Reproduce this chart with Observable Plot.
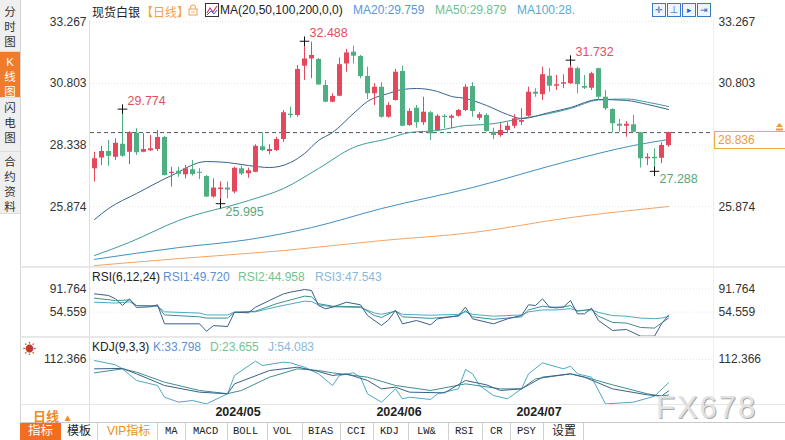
<!DOCTYPE html>
<html><head><meta charset="utf-8">
<script src="https://cdn.jsdelivr.net/npm/d3@7"></script>
<script src="https://cdn.jsdelivr.net/npm/@observablehq/plot@0.6"></script>
<style>
body{margin:0;background:#fff;font-family:"Liberation Sans","Noto Sans CJK SC",sans-serif;}
#root{position:relative;width:785px;height:440px;overflow:hidden;background:#fff;}
.abs{position:absolute;white-space:nowrap;}
.plot{position:absolute;left:0;}
.hl{position:absolute;height:1px;background:#e3e3e3;}
.vl{position:absolute;width:1px;background:#dcdcdc;}
.tb{position:absolute;top:423px;height:17px;line-height:17px;font-size:12px;color:#222;white-space:nowrap;}
.mono{font-family:"Liberation Mono","DejaVu Sans Mono",monospace;font-size:10.5px;}
.side{position:absolute;left:0;width:20px;text-align:center;font-size:11.5px;line-height:15px;color:#333;box-sizing:border-box;}
.ico{position:absolute;top:3px;width:12px;height:12px;border:1px solid #3b78c7;background:#eef4fc;}
</style></head><body><div id="root"></div>
<script>
// ---------- data ----------
const open  = [27.39,27.82,28.08,27.85,28.37,28.05,28.81,28.05,28.11,28.16,28.64,27.20,27.29,27.15,27.35,27.25,27.08,26.26,26.56,26.62,26.46,27.39,27.19,27.25,28.27,28.08,28.12,28.56,29.57,29.52,31.49,31.78,31.76,30.72,30.05,30.29,31.58,32.05,31.88,31.08,30.39,30.65,29.45,30.12,31.28,29.12,29.81,29.23,29.63,28.92,29.49,29.41,29.49,29.72,30.68,29.41,29.52,28.85,28.72,28.92,29.09,29.25,29.49,30.45,30.35,31.09,30.69,30.77,30.79,31.39,30.68,30.61,31.39,30.25,29.76,29.17,29.09,29.15,28.83,27.79,27.85,27.81,28.32];
const high  = [28.05,28.29,28.52,28.59,29.774,28.88,28.99,28.79,28.72,28.92,28.68,27.45,27.45,27.52,27.72,27.39,27.12,26.99,26.86,26.86,27.46,27.49,27.42,28.35,28.83,28.35,28.65,29.72,29.85,31.52,32.488,32.45,31.80,30.92,30.39,31.82,32.16,32.29,31.92,31.45,30.79,30.83,30.03,31.36,31.49,29.79,29.92,30.25,29.68,29.55,29.55,29.55,29.76,30.75,30.83,29.63,29.59,29.01,29.19,29.23,29.55,29.79,30.65,30.59,31.45,31.39,31.12,31.15,31.732,31.45,31.12,31.25,31.41,30.52,29.79,29.36,29.28,29.52,28.85,27.99,28.19,28.43,28.85];
const low   = [26.86,27.52,27.49,27.72,27.85,27.55,27.92,28.03,28.08,28.08,27.10,26.66,27.05,26.99,27.10,26.96,26.24,26.22,25.995,26.19,26.39,27.12,27.01,27.23,28.08,27.95,28.08,28.45,29.41,29.45,30.92,30.99,30.72,30.03,30.03,30.27,31.25,31.58,30.99,30.16,29.92,29.41,29.41,30.10,29.07,29.09,29.01,29.12,28.52,28.88,28.99,28.99,29.45,29.68,29.45,29.32,28.85,28.56,28.65,28.79,28.99,29.12,29.45,30.25,30.12,30.45,30.52,30.59,30.75,30.39,30.56,30.52,30.12,29.72,28.83,28.85,28.65,28.83,27.42,27.52,27.288,27.59,28.25];
const close = [27.79,28.08,27.89,28.41,27.89,28.83,28.03,28.16,28.19,28.64,27.12,27.25,27.17,27.39,27.16,27.21,26.26,26.62,26.62,26.54,27.41,27.18,27.31,28.29,28.12,28.16,28.56,29.63,29.52,31.36,31.78,31.92,30.74,30.05,30.28,31.55,32.02,31.89,31.08,30.39,30.65,29.45,29.92,31.25,29.09,29.68,29.23,29.65,28.79,29.49,29.44,29.49,29.72,30.65,29.68,29.55,28.88,28.72,28.92,29.09,29.39,29.32,30.45,30.37,31.15,30.69,30.75,30.83,31.41,30.75,30.61,31.19,30.25,29.79,29.19,29.09,29.17,28.85,27.79,27.85,27.79,28.32,28.836];

// moving averages: [candle index, value]
const ma20  = [[0,25.36],[2,25.80],[6,26.40],[11,27.12],[16,27.68],[19,27.64],[22,27.52],[25,27.44],[28,27.64],[30,28.00],[32,28.52],[34,28.84],[37,29.60],[39,30.08],[42,30.40],[44,30.56],[46,30.60],[49,30.48],[51,30.28],[53,30.20],[56,29.92],[59,29.56],[61,29.40],[65,29.64],[68,29.84],[72,30.16],[76,30.12],[79,29.96],[82,29.759]];
const ma50  = [[0,23.92],[5,24.45],[12,25.32],[22,26.12],[27,26.60],[32,27.40],[37,28.24],[42,28.60],[45,28.84],[49,28.92],[53,29.12],[56,29.16],[61,29.40],[65,29.60],[68,29.80],[72,30.14],[76,30.18],[79,30.05],[82,29.879]];
const ma100 = [[0,23.77],[12,24.24],[22,24.56],[31,25.04],[41,25.80],[54,26.64],[68,27.72],[77,28.32],[82,28.56]];
const ma200 = [[0,23.52],[12,23.80],[27,24.12],[41,24.52],[54,24.84],[68,25.44],[82,25.88]];

// RSI(6,12,24)
const rsi1 = [[0,83.7],[2,81.1],[3,75.7],[4,65.1],[5,75.7],[6,62],[8,63],[9,66.2],[10,35.8],[15,35.8],[16,24],[17,33],[19,31.5],[20,54.5],[22,53.4],[23,62.4],[25,73.1],[26,78.4],[27,83.7],[28,86.4],[30,90.6],[31,89],[32,65.1],[33,59.8],[34,62.4],[36,70.4],[38,66.2],[39,49.1],[41,33.2],[42,42],[43,57.1],[44,35.8],[46,41.1],[48,34.2],[49,43.8],[52,49.1],[53,62.4],[54,43.8],[57,35.8],[59,43.8],[61,49.1],[62,66.2],[63,65.1],[64,75.7],[65,62.4],[67,62.4],[68,73.1],[69,51.8],[70,51.8],[71,60.8],[72,41.1],[74,25.2],[76,26.8],[78,16.1],[80,16.1],[81,35.8],[82,49.720]];
const rsi2 = [[0,76.8],[3,73],[5,74],[6,65],[9,64.5],[10,50],[15,47],[16,45],[19,45],[20,54],[23,56],[26,68],[30,80],[31,79],[32,68],[34,64],[38,63],[40,49],[41,46],[43,57],[44,47],[48,44.5],[52,48],[53,57],[54,47],[57,43],[61,47],[62,58],[64,64],[66,61],[68,65],[69,56],[71,59],[72,48],[74,38],[76,37],[78,30],[80,29],[81,37],[82,44.958]];
const rsi3 = [[0,70.4],[3,69],[5,71],[6,65],[9,64],[10,55],[15,53],[16,50],[19,50],[20,54.5],[23,55],[26,63],[30,72],[31,71.5],[32,66],[34,63],[38,62],[40,53],[41,51],[43,56],[44,51],[48,49.5],[52,51],[53,55],[54,51],[57,48],[61,50],[62,55],[64,58],[66,58],[68,60],[69,57],[71,58],[72,54],[74,49],[76,48],[78,45],[80,44],[81,45],[82,47.543]];

// KDJ(9,3,3)
const kdjK = [[0,89],[4,90],[6,76.5],[10,47.4],[15,30.7],[19,26.5],[20,51.5],[25,84.9],[29,93.2],[32,82.4],[34,72.4],[36,76.5],[39,59.9],[41,39],[43,43.2],[45,30.7],[50,29],[53,59.9],[56,49],[58,34.9],[61,39],[64,68.2],[68,76.5],[70,68.2],[74,39],[79,24],[81,20.7],[82,33.798]];
const kdjD = [[0,79],[4,89],[6,80.7],[10,55.7],[15,34.9],[19,27],[21,34.9],[25,68.2],[29,89],[32,84.9],[34,79],[39,68.2],[43,47.4],[48,34.9],[53,51.5],[58,39],[61,39],[63,64],[68,76.5],[71,64],[74,49],[79,26.5],[81,20.7],[82,23.655]];
const kdjJ = [[0,109.9],[3,99],[4,89],[6,59.9],[9,47.4],[10,18.2],[12,5.7],[14,9.9],[16,1.5],[18,18.2],[19,26.5],[20,72.4],[23,108.2],[24,97.4],[27,105.7],[28,104],[30,93.2],[32,76.5],[34,47.4],[35,72.4],[37,79],[38,68.2],[39,26.5],[41,5.7],[43,39],[44,14],[45,18.2],[48,12.4],[49,26.5],[52,39],[53,87.4],[54,76.5],[55,47.4],[57,22.4],[59,14],[61,39],[62,76.5],[64,104],[67,89],[68,95.7],[69,76.5],[71,68.2],[73,1.5],[77,5.7],[80,20.7],[82,54.083]];

const priceTicks = [33.267, 30.803, 28.338, 25.874];
const rsiTicks = [91.764, 54.559];
const kdjTicks = [112.366];
const dateTicks = [20.5, 43.5, 63.5];
const dateLabels = ["2024/05", "2024/06", "2024/07"];
const highMarks = [4, 30, 68];
const lowMarks = [18, 80];
const lastPrice = close[close.length - 1];

// ---------- drawing ----------
const root = document.getElementById("root");
const RED = "#e4485c", GREEN = "#4faf83";
const FONT = "Liberation Sans, Noto Sans CJK SC, sans-serif";
const baseStyle = {background: "transparent", overflow: "visible", fontFamily: FONT, fontSize: "12px", color: "#333"};
const X = {domain: [0, 82], range: [94, 668], axis: null};

const candles = open.map((o, i) => ({i, o, h: high[i], l: low[i], c: close[i]}));
const ups = candles.filter(d => d.c >= d.o), downs = candles.filter(d => d.c < d.o);
const pts = a => a.map(([i, v]) => ({i, v}));

function place(node, top) { node.classList.add("plot"); node.style.top = top + "px"; root.appendChild(node); }

const price = Plot.plot({
  width: 785, height: 267, marginLeft: 90, marginRight: 71, marginTop: 0, marginBottom: 0,
  x: X, y: {domain: [23.5, 33.117], range: [265.6, 25], axis: null},
  style: baseStyle,
  marks: [
    Plot.ruleY(priceTicks, {stroke: "#e6e6e6", strokeDasharray: "1,2"}),
    Plot.ruleY([lastPrice], {stroke: "#4a5566", strokeDasharray: "4,3"}),
    Plot.line(pts(ma200), {x: "i", y: "v", stroke: "#f2a468", strokeWidth: 1, curve: "monotone-x"}),
    Plot.line(pts(ma100), {x: "i", y: "v", stroke: "#3f90c4", strokeWidth: 1, curve: "monotone-x"}),
    Plot.line(pts(ma50), {x: "i", y: "v", stroke: "#3d9c98", strokeWidth: 1, curve: "monotone-x"}),
    Plot.line(pts(ma20), {x: "i", y: "v", stroke: "#3a6290", strokeWidth: 1, curve: "monotone-x"}),
    Plot.ruleX(ups, {x: "i", y1: "l", y2: "h", stroke: RED, strokeWidth: 1}),
    Plot.ruleX(downs, {x: "i", y1: "l", y2: "h", stroke: GREEN, strokeWidth: 1}),
    Plot.ruleX(ups, {x: "i", y1: "o", y2: "c", stroke: RED, strokeWidth: 5}),
    Plot.ruleX(downs, {x: "i", y1: "o", y2: "c", stroke: GREEN, strokeWidth: 5}),
    Plot.dot(highMarks, {x: d => d, y: d => high[d], symbol: "plus", r: 3.2, stroke: "#111", strokeWidth: 1}),
    Plot.dot(lowMarks, {x: d => d, y: d => low[d], symbol: "plus", r: 3.2, stroke: "#111", strokeWidth: 1}),
    Plot.text(highMarks, {x: d => d, y: d => high[d], text: d => high[d].toFixed(3), dx: 5, dy: -8, textAnchor: "start", fill: "#e0505f", fontSize: 12.5}),
    Plot.text(lowMarks, {x: d => d, y: d => low[d], text: d => low[d].toFixed(3), dx: 5, dy: 8, textAnchor: "start", fill: "#56a97c", fontSize: 12.5}),
    Plot.axisY(priceTicks, {anchor: "left", tickSize: 0, tickPadding: 4, tickFormat: d => d.toFixed(3), label: null}),
    Plot.axisY(priceTicks.filter(d => Math.abs(d - lastPrice) > 0.6), {anchor: "right", tickSize: 0, tickPadding: 4, tickFormat: d => d.toFixed(3), label: null})
  ]
});
place(price, 0);

const rsi = Plot.plot({
  width: 785, height: 70, marginLeft: 90, marginRight: 71, marginTop: 0, marginBottom: 0,
  x: X, y: {domain: [16, 91.764], range: [68.73, 21.3], axis: null},
  style: baseStyle,
  marks: [
    Plot.ruleY(rsiTicks, {stroke: "#e6e6e6", strokeDasharray: "1,2"}),
    Plot.line(pts(rsi3), {x: "i", y: "v", stroke: "#4aa9c6", strokeWidth: 1}),
    Plot.line(pts(rsi2), {x: "i", y: "v", stroke: "#3f8e8e", strokeWidth: 1}),
    Plot.line(pts(rsi1), {x: "i", y: "v", stroke: "#3a5f8c", strokeWidth: 1}),
    Plot.axisY(rsiTicks, {anchor: "left", tickSize: 0, tickPadding: 4, tickFormat: d => d.toFixed(3), label: null}),
    Plot.axisY(rsiTicks, {anchor: "right", tickSize: 0, tickPadding: 4, tickFormat: d => d.toFixed(3), label: null})
  ]
});
place(rsi, 267);

const dateMap = new Map(dateTicks.map((d, k) => [d, dateLabels[k]]));
const kdj = Plot.plot({
  width: 785, height: 85, marginLeft: 90, marginRight: 71, marginTop: 0, marginBottom: 18,
  x: X, y: {domain: [0, 112.366], range: [66.95, 22], axis: null},
  style: baseStyle,
  marks: [
    Plot.ruleY(kdjTicks, {stroke: "#e6e6e6", strokeDasharray: "1,2"}),
    Plot.line(pts(kdjJ), {x: "i", y: "v", stroke: "#4aa9c6", strokeWidth: 1}),
    Plot.line(pts(kdjD), {x: "i", y: "v", stroke: "#3f8e8e", strokeWidth: 1}),
    Plot.line(pts(kdjK), {x: "i", y: "v", stroke: "#3a5f8c", strokeWidth: 1}),
    Plot.axisY(kdjTicks, {anchor: "left", tickSize: 0, tickPadding: 4, tickFormat: d => d.toFixed(3), label: null}),
    Plot.axisY(kdjTicks, {anchor: "right", tickSize: 0, tickPadding: 4, tickFormat: d => d.toFixed(3), label: null}),
    Plot.axisX(dateTicks, {anchor: "bottom", tickSize: 0, tickPadding: 3, tickFormat: d => dateMap.get(d), fontWeight: "bold", fontSize: 12.5, fill: "#222", label: null})
  ]
});
place(kdj, 337);

// ---------- chrome: html overlays ----------
function add(html) { root.insertAdjacentHTML("beforeend", html); }
const fmt3 = v => v.toFixed(3);
const lastV = a => a[a.length - 1][1];

// frame lines
add(`<div class="vl" style="left:20px;top:0;height:440px;background:#d5d5d5"></div>`);
add(`<div class="vl" style="left:89px;top:20px;height:402px;background:#e0e0e0"></div>`);
add(`<div class="vl" style="left:713px;top:20px;height:384px;background:#eeeeee"></div>`);
add(`<div class="hl" style="left:20px;top:266px;width:765px;height:2px;background:#e8e8e8"></div>`);
add(`<div class="hl" style="left:20px;top:336px;width:765px;height:2px;background:#e8e8e8"></div>`);
add(`<div class="hl" style="left:20px;top:404px;width:765px;background:#e6e6e6"></div>`);
add(`<div class="hl" style="left:20px;top:422px;width:765px;background:#c9c9c9"></div>`);

// sidebar
add(`<div class="abs" style="left:0;top:0;width:20px;height:214px;background:#efefef"></div>`);
const tabs = [["分时图", 1.5, 51.5, false], ["K线图", 51.5, 97.5, true], ["闪电图", 97.5, 151.5, false], ["合约资料", 151.5, 214, false]];
tabs.forEach(([t, top, bottom, act]) => {
  add(`<div class="side" style="top:${top}px;height:${bottom - top}px;padding-top:3px;${act ? "background:#f07b2a;color:#fff;" : ""}border-bottom:1px solid #dcdcdc">${t.split("").join("<br>")}</div>`);
});

// title row
add(`<div class="abs" style="left:92px;top:3px;font-size:12px;color:#222">现货白银</div>`);
add(`<div class="abs" style="left:141px;top:3px;font-size:12px;color:#f2a33a">【日线】</div>`);
add(`<svg class="abs" style="left:188px;top:4px" width="10" height="12"><path d="M2.5 5 V3.5 a2.5 2.5 0 0 1 5 0 V5" fill="none" stroke="#f0b070" stroke-width="1.2"/><rect x="1" y="5" width="8" height="6" fill="none" stroke="#f0b070" stroke-width="1.2"/><line x1="3" y1="8" x2="7" y2="8" stroke="#f0b070"/></svg>`);
add(`<svg class="abs" style="left:205px;top:3px" width="14" height="14"><rect x="0.5" y="0.5" width="13" height="13" fill="#fff" stroke="#333"/><polyline points="2,10 5,5 8,9 12,3" fill="none" stroke="#c0407a" stroke-width="1.2"/><polyline points="2,12 6,8 9,11 12,7" fill="none" stroke="#4060c0" stroke-width="1"/></svg>`);
add(`<div class="abs" style="left:220px;top:3px;font-size:12px;color:#222">MA(20,50,100,200,0,0)</div>`);
add(`<div class="abs" style="left:353px;top:3px;font-size:12px;color:#5b95d8">MA20:${fmt3(lastV(ma20))}</div>`);
add(`<div class="abs" style="left:435px;top:3px;font-size:12px;color:#6cc092">MA50:${fmt3(lastV(ma50))}</div>`);
add(`<div class="abs" style="left:517px;top:3px;font-size:12px;color:#5aa8d0">MA100:${lastV(ma100).toFixed(3).slice(0, 3)}</div>`);
["✛", "⊥", "▸", "⇥"].forEach((g, k) => add(`<div class="ico" style="left:${652 + k * 15}px;font-size:9px;line-height:12px;text-align:center;color:#2a66b8">${g}</div>`));

// current price tag
add(`<div class="abs" style="left:714px;top:131px;width:67px;height:16px;border:1px solid #f3a845;background:#fff;color:#f09a30;font-size:12px;line-height:16px;padding-left:3px;box-sizing:content-box">${fmt3(lastPrice)}</div>`);
add(`<svg class="abs" style="left:775px;top:123px" width="9" height="9"><path d="M4.5 0 L8 4 H1 Z" fill="#f09a30"/><rect x="1" y="5.5" width="7" height="2" fill="#f09a30"/></svg>`);

// RSI title
add(`<div class="abs" style="left:92px;top:270px;font-size:12px;color:#222">RSI(6,12,24)</div>`);
add(`<div class="abs" style="left:163px;top:270px;font-size:12px;color:#5b8fd6">RSI1:${fmt3(lastV(rsi1))}</div>`);
add(`<div class="abs" style="left:238px;top:270px;font-size:12px;color:#73c48f">RSI2:${fmt3(lastV(rsi2))}</div>`);
add(`<div class="abs" style="left:315px;top:270px;font-size:12px;color:#87b9dd">RSI3:${fmt3(lastV(rsi3))}</div>`);

// KDJ title
add(`<div class="abs" style="left:23px;top:338px;font-size:13px;color:#c0392b">☀</div>`);
add(`<div class="abs" style="left:92px;top:340px;font-size:12px;color:#222">KDJ(9,3,3)</div>`);
add(`<div class="abs" style="left:153px;top:340px;font-size:12px;color:#5b8fd6">K:${fmt3(lastV(kdjK))}</div>`);
add(`<div class="abs" style="left:210px;top:340px;font-size:12px;color:#73c48f">D:${fmt3(lastV(kdjD))}</div>`);
add(`<div class="abs" style="left:268px;top:340px;font-size:12px;color:#87b9dd">J:${fmt3(lastV(kdjJ))}</div>`);

// bottom left period + watermark
add(`<div class="abs" style="left:33px;top:406px;font-size:13px;font-weight:bold;color:#f08a28">日线 <span style="font-size:10px">▲</span></div>`);
add(`<div class="abs" style="left:656px;top:390px;font-size:31px;letter-spacing:2px;color:#e2e2e2;text-shadow:1px 1px 0 #a9a9a9">FX678</div>`);

// toolbar
add(`<div class="tb" style="left:20px;width:41px;background:#f06d22;color:#fff;text-align:center;font-size:12.5px">指标</div>`);
const tools = [["模板",67,""],["VIP指标",107,"c"],["MA",165,"m"],["MACD",193,"m"],["BOLL",233,"m"],["VOL",273,"m"],["BIAS",308,"m"],["CCI",347,"m"],["KDJ",380,"m"],["LW&",417,"m"],["RSI",455,"m"],["CR",490,"m"],["PSY",517,"m"],["设置",552,""]];
tools.forEach(([t, x, k]) => add(`<div class="tb ${k === "m" ? "mono" : ""}" style="left:${x}px;${k === "c" ? "color:#e8901c;" : ""}">${t.replace("&", "&amp;")}</div>`));
[97,157,185,227,267,302,340,373,408,448,482,510,543,583].forEach(x => add(`<div class="vl" style="left:${x}px;top:423px;height:17px;background:#d0d0d0"></div>`));
</script></body></html>
